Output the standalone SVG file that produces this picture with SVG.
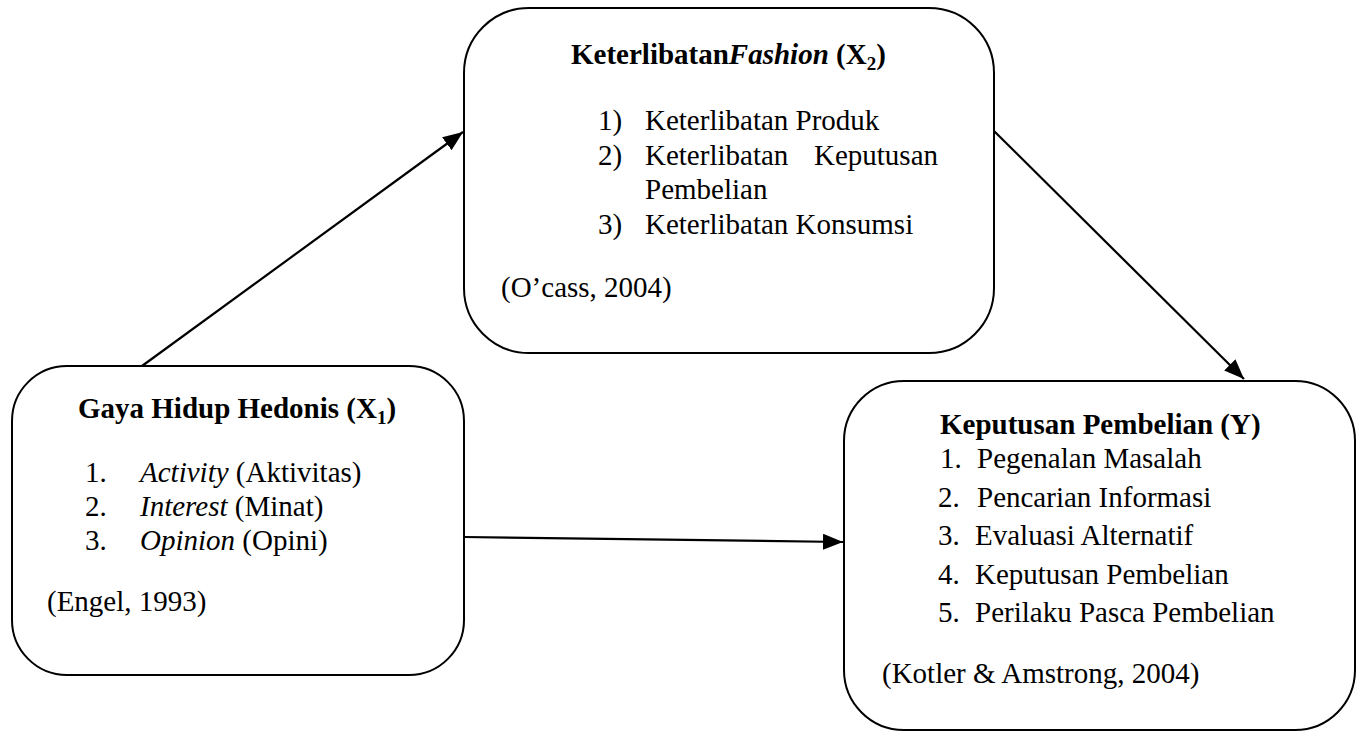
<svg xmlns="http://www.w3.org/2000/svg" width="1369" height="733" viewBox="0 0 1369 733">
<style>
.box{fill:#fff;stroke:#000;stroke-width:2}
.t{font-family:"Liberation Serif","Times New Roman",serif;font-size:29px;fill:#000}
.b{font-weight:bold}
.i{font-style:italic}
.c{stroke:#000;stroke-width:2.2;fill:none}
</style>
<defs>
<marker id="ah" markerUnits="userSpaceOnUse" markerWidth="22" markerHeight="16" refX="20" refY="8" orient="auto">
<path d="M0,0 L20,8 L0,16 Z" fill="#000"/>
</marker>
</defs>
<g id="connectors">
<line class="c" x1="142" y1="366" x2="463" y2="132" marker-end="url(#ah)"/>
<line class="c" x1="994" y1="131" x2="1244" y2="379" marker-end="url(#ah)"/>
<line class="c" x1="464" y1="537" x2="843" y2="542" marker-end="url(#ah)"/>
</g>
<g id="node-x2">
<rect class="box" x="464" y="8" width="530" height="345" rx="65" ry="65"/>
<text class="t b" x="571" y="64">Keterlibatan<tspan class="i">Fashion</tspan> (X<tspan font-size="19" dy="6">2</tspan><tspan dy="-6">)</tspan></text>
<text class="t" x="598" y="130">1)</text><text class="t" x="645" y="130">Keterlibatan Produk</text>
<text class="t" x="598" y="165">2)</text><text class="t" x="645" y="165">Keterlibatan</text><text class="t" x="938" y="165" text-anchor="end">Keputusan</text>
<text class="t" x="645" y="199">Pembelian</text>
<text class="t" x="598" y="234">3)</text><text class="t" x="645" y="234">Keterlibatan Konsumsi</text>
<text class="t" x="501" y="297">(O’cass, 2004)</text>
</g>
<g id="node-x1">
<rect class="box" x="12" y="366" width="452" height="309" rx="55" ry="55"/>
<text class="t b" x="78" y="418">Gaya Hidup Hedonis (X<tspan font-size="19" dy="6">1</tspan><tspan dy="-6">)</tspan></text>
<text class="t" x="85" y="482">1.</text><text class="t" x="140" y="482"><tspan class="i">Activity</tspan> (Aktivitas)</text>
<text class="t" x="85" y="516">2.</text><text class="t" x="140" y="516"><tspan class="i">Interest</tspan> (Minat)</text>
<text class="t" x="85" y="550">3.</text><text class="t" x="140" y="550"><tspan class="i">Opinion</tspan> (Opini)</text>
<text class="t" x="47" y="611">(Engel, 1993)</text>
</g>
<g id="node-y">
<rect class="box" x="844" y="381" width="511" height="349" rx="60" ry="60"/>
<text class="t b" x="940" y="434">Keputusan Pembelian (Y)</text>
<text class="t" x="940" y="468">1.</text><text class="t" x="977" y="468">Pegenalan Masalah</text>
<text class="t" x="938" y="507">2.</text><text class="t" x="977" y="507">Pencarian Informasi</text>
<text class="t" x="938" y="545">3.</text><text class="t" x="975" y="545">Evaluasi Alternatif</text>
<text class="t" x="938" y="584">4.</text><text class="t" x="975" y="584">Keputusan Pembelian</text>
<text class="t" x="938" y="622">5.</text><text class="t" x="975" y="622">Perilaku Pasca Pembelian</text>
<text class="t" x="882" y="683">(Kotler &amp; Amstrong, 2004)</text>
</g>
</svg>
